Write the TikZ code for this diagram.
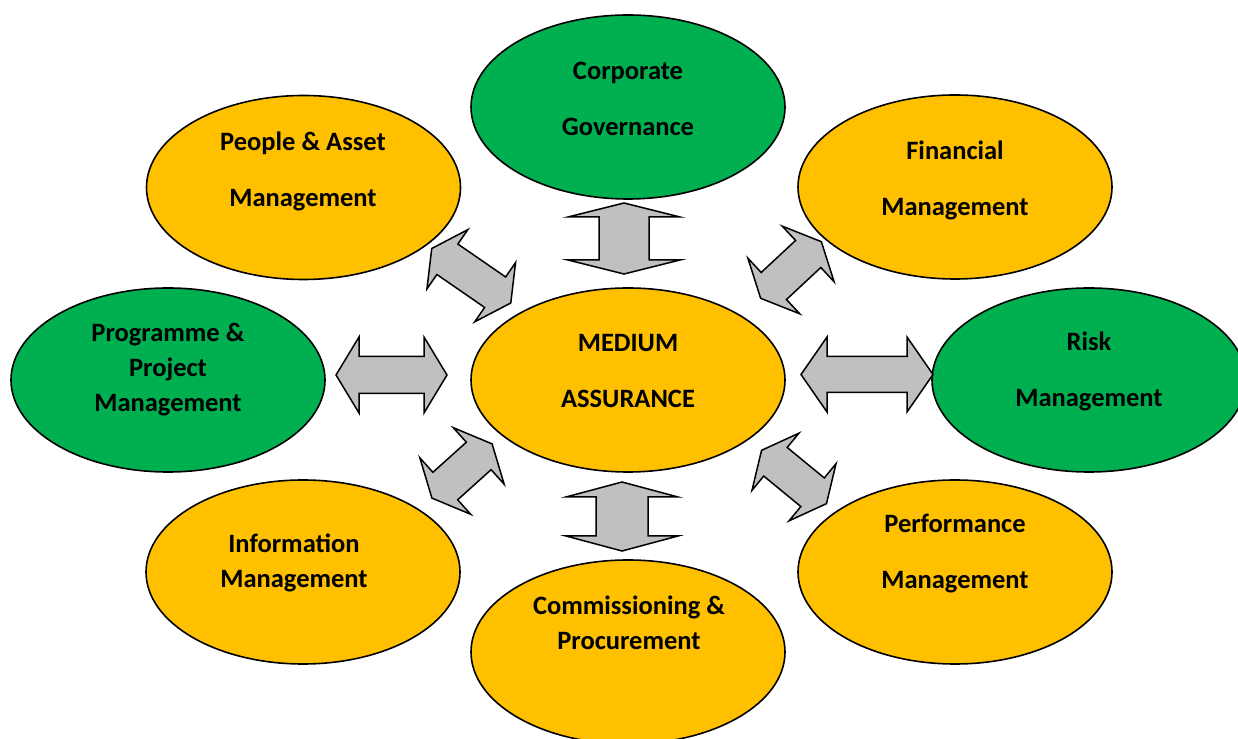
\documentclass[tikz,border=0pt]{standalone}
\usepackage{fontspec}
\setmainfont{Carlito}
\usetikzlibrary{shapes.geometric,calc}
\definecolor{ggreen}{HTML}{00B050}
\definecolor{ggold}{HTML}{FFC000}
\definecolor{ggray}{HTML}{C0C0C0}
\tikzset{
  blob/.style={ellipse,draw=black,line width=1.6pt,minimum width=314pt,minimum height=184pt,inner sep=0pt},
  gold/.style={blob,fill=ggold},
  green/.style={blob,fill=ggreen},
  txt/.style={align=center,inner sep=0pt,font=\fontsize{26.5}{35}\selectfont\bfseries},
  blockarrow/.style={draw=black,fill=ggray,line width=1.5pt,line join=miter},
  pics/dbl/.style n args={4}{code={%
    \pgfmathsetmacro\hl{#1/2}%
    \pgfmathsetmacro\hw{#2/2}%
    \pgfmathsetmacro\hs{#3/2}%
    \pgfmathsetmacro\hb{#1/2-#4}%
    \draw[blockarrow] (-\hl,0) -- (-\hb,\hw) -- (-\hb,\hs) -- (\hb,\hs) -- (\hb,\hw) -- (\hl,0)
      -- (\hb,-\hw) -- (\hb,-\hs) -- (-\hb,-\hs) -- (-\hb,-\hw) -- cycle;
  }}
}
\begin{document}
\begin{tikzpicture}[x=1pt,y=1pt]
\useasboundingbox (0,0) rectangle (1238,738);
% ellipses
\node[gold]  (c)    at (628,358) {};
\node[green] (cg)   at (628,631) {};
\node[gold]  (pa)   at (303.5,550.5) {};
\node[gold]  (fm)   at (955,551) {};
\node[green] (pp)   at (168,358) {};
\node[green] (rm)   at (1089,358) {};
\node[gold]  (im)   at (303,166) {};
\node[gold]  (perf) at (955,166) {};
\node[gold]  (cp)   at (628,86) {};
% texts
\node[txt] (t-c)    at (628,367) {MEDIUM\\[21pt]ASSURANCE};
\node[txt] (t-cg)   at (628,639) {Corporate\\[21pt]Governance};
\node[txt] (t-pa)   at (303,567) {People \& Asset\\[21pt]Management};
\node[txt] (t-fm)   at (955,558) {Financial\\[21pt]Management};
\node[txt] (t-pp)   at (168,368) {Programme \&\\Project\\Management};
\node[txt] (t-rm)   at (1089,367) {Risk\\[21pt]Management};
\node[txt] (t-im)   at (294,175) {Information\\Management};
\node[txt] (t-perf) at (955,184) {Performance\\[21pt]Management};
\node[txt] (t-cp)   at (629,115) {Commissioning \&\\Procurement};
% block arrows
\path ($(c)!0.5!(cg)$)   ++(-4,5)    pic[rotate=90]    {dbl={71}{112}{50}{14}};
\path ($(c)!0.5!(cp)$)   ++(-6,-0.5) pic[rotate=90]    {dbl={69}{112}{52}{15}};
\path ($(c)!0.5!(pp)$)   ++(-6.5,5)  pic               {dbl={111}{76}{37}{23}};
\path ($(c)!0.5!(rm)$)   ++(8.5,5.5) pic               {dbl={132}{75}{36}{26}};
\path ($(c)!0.5!(pa)$)   ++(5.5,8)   pic[rotate=-34.6] {dbl={96}{72}{37}{19}};
\path ($(c)!0.5!(fm)$)   ++(-0.5,13.5) pic[rotate=43]  {dbl={83}{76}{37}{18}};
\path ($(c)!0.5!(im)$)   ++(-3.5,5)  pic[rotate=42]    {dbl={81}{76}{37}{18}};
\path ($(c)!0.5!(perf)$) ++(2.5,-1)  pic[rotate=-39.4] {dbl={84}{74}{37}{18}};
\end{tikzpicture}
\end{document}
